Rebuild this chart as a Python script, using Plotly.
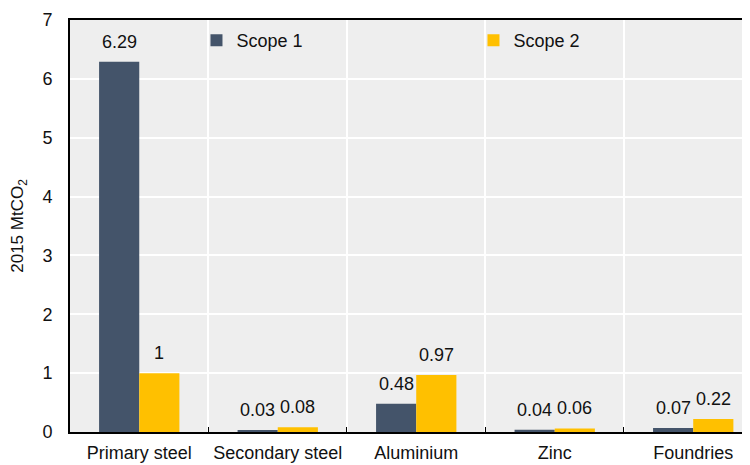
import plotly.graph_objects as go

categories = ["Primary steel", "Secondary steel", "Aluminium", "Zinc", "Foundries"]
scope1 = [6.29, 0.03, 0.48, 0.04, 0.07]
scope2 = [1, 0.08, 0.97, 0.06, 0.22]
series_names = ["Scope 1", "Scope 2"]
colors = ["#44546A", "#FFC000"]
y_ticks = [0, 1, 2, 3, 4, 5, 6, 7]

font_family = "Liberation Sans, Arial, sans-serif"

fig = go.Figure()
series = [scope1, scope2]
for name, vals, col in zip(series_names, series, colors):
    fig.add_trace(go.Bar(
        x=categories, y=vals, name=name, marker_color=col, marker_line_width=0,
    ))

# value labels above each bar (grouped bars are offset +-20px from category centre)
for k, vals in enumerate(series):
    for cat, v in zip(categories, vals):
        fig.add_annotation(
            x=cat, y=v, xref="x", yref="y", text=f"{v:g}", showarrow=False,
            xanchor="center", yanchor="bottom", xshift=-20 if k == 0 else 20,
            yshift=8, font=dict(size=18, color="#111111", family=font_family),
        )

# the page body has an 8px default margin, so margins are reduced accordingly
fig.update_layout(
    width=750, height=465,
    margin=dict(l=62, r=8, t=12, b=41, autoexpand=False),
    paper_bgcolor="white", plot_bgcolor="#EEEEEE",
    barmode="group", bargap=0.42, bargroupgap=0,
    font=dict(family=font_family, size=18, color="#111111"),
    showlegend=True,
    legend=dict(orientation="h", x=0.186, y=0.995, xanchor="left", yanchor="top",
                bgcolor="rgba(0,0,0,0)", entrywidth=232, entrywidthmode="pixels",
                font=dict(size=18), itemwidth=30, traceorder="normal"),
)
fig.update_xaxes(
    range=[-0.5, 4.41], tickson="boundaries", ticks="inside", ticklen=5,
    tickcolor="black", showgrid=True, gridcolor="white", gridwidth=2,
    showline=True, linecolor="black", linewidth=2, mirror=True,
    tickfont=dict(size=18), ticklabelstandoff=3,
)
fig.update_yaxes(
    range=[0, 7], tickvals=y_ticks, showgrid=True, gridcolor="white", gridwidth=2,
    showline=True, linecolor="black", linewidth=2, mirror=True, ticks="",
    zeroline=False, tickfont=dict(size=18), ticklabelstandoff=12,
    title=dict(text="2015 MtCO<sub>2</sub>", font=dict(size=17), standoff=14),
)

fig.write_html("out.html")
